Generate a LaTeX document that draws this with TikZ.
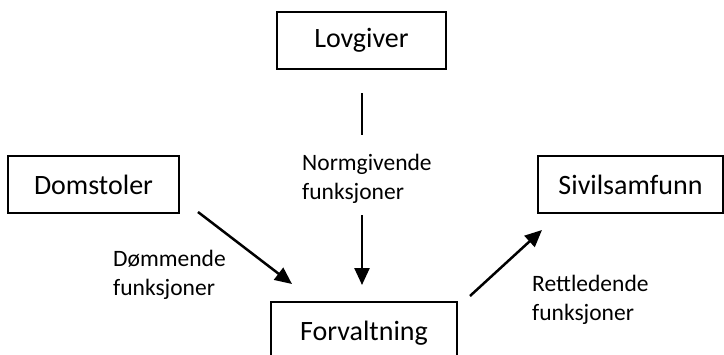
\documentclass[tikz,border=0pt]{standalone}
\usepackage{fontspec}
\setmainfont{Carlito}
\usetikzlibrary{arrows.meta}
\begin{document}
\begin{tikzpicture}[x=1pt,y=-1pt,
  box/.style={draw,line width=1.6pt,inner sep=0pt,font=\fontsize{28}{34}\selectfont},
  lbl/.style={anchor=west,align=left,inner sep=0pt,font=\fontsize{23.5}{28.5}\selectfont},
  conn/.style={line width=2.5pt},
  arr/.style={line width=2.5pt,-{Triangle[length=17pt,width=15pt]}}]
\useasboundingbox (0,0) rectangle (724,354);
\clip (0,0) rectangle (724,354);
\node[box,minimum width=169pt,minimum height=57pt] (lov) at (361.5,40.5) {Lovgiver};
\node[box,minimum width=171pt,minimum height=57pt] (dom) at (93.5,184.5) {Domstoler};
\node[box,minimum width=185pt,minimum height=57pt] (siv) at (630.5,184.5) {Sivilsamfunn};
\node[box,minimum width=186pt,minimum height=63pt] (forv) at (364,333.5) {Forvaltning};
\coordinate (n1) at (362,93);
\coordinate (n2) at (362,135);
\coordinate (n3) at (362,215);
\coordinate (n4) at (362,285);
\coordinate (d1) at (198,212);
\coordinate (d2) at (292,284);
\coordinate (r1) at (470,296);
\coordinate (r2) at (542,230);
\draw[conn] (n1) -- (n2);
\draw[arr] (n3) -- (n4);
\draw[arr] (d1) -- (d2);
\draw[arr] (r1) -- (r2);
\node[lbl] (nlab) at (302,179) {Normgivende\\funksjoner};
\node[lbl] (dlab) at (113,275) {Dømmende\\funksjoner};
\node[lbl] (rlab) at (532,300) {Rettledende\\funksjoner};
\end{tikzpicture}
\end{document}
